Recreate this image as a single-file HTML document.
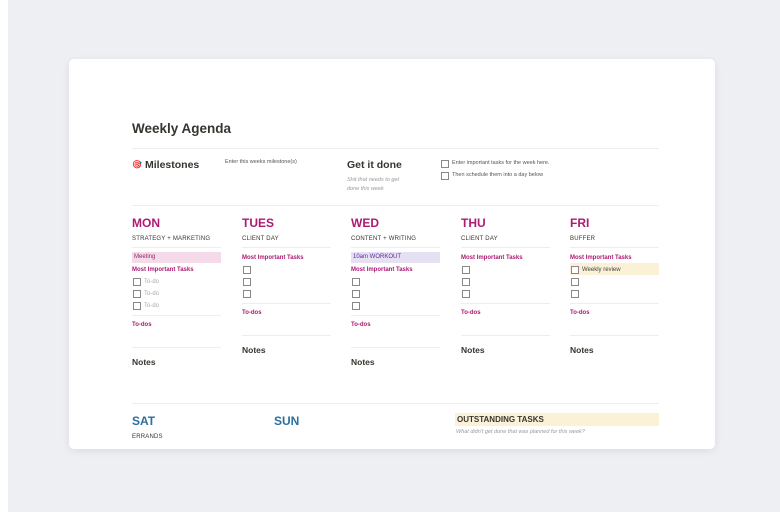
<!DOCTYPE html>
<html><head><meta charset="utf-8">
<style>
html,body{margin:0;padding:0}
body{width:780px;height:512px;position:relative;overflow:hidden;background:#fff;font-family:"Liberation Sans",sans-serif;}
#bg{position:absolute;left:8px;top:0;width:772px;height:512px;background:#eeeff3}
#card{position:absolute;left:69px;top:59px;width:646px;height:390px;background:#fff;border-radius:5px;box-shadow:0 2px 8px rgba(0,0,0,0.08)}
.a{position:absolute;white-space:nowrap;line-height:1}
.hr{position:absolute;height:1px;background:#eeeeee}
.day{font-weight:bold;font-size:12px;color:#ad1a72}
.blue{color:#2b6f9e}
.sub{font-size:6px;color:#37352f;letter-spacing:0.2px}
.mit{font-size:6px;color:#ad1a72;font-weight:bold}
.cb{position:absolute;width:6px;height:6px;border:1px solid #888;background:#fff}
.todo{font-size:6px;color:#aaa}
.notes{font-size:8.5px;font-weight:bold;color:#37352f}
</style></head>
<body>
<div id="bg"></div>
<div id="card"></div>
<div id="root"></div>
<script>
var root=document.getElementById('root');
function mk(cls,x,y,txt,css){
  var e=document.createElement('div');
  e.className=cls;
  e.style.left=x+'px';e.style.top=y+'px';
  if(txt)e.textContent=txt;
  if(css)e.style.cssText+=css;
  root.appendChild(e);
  return e;
}
var e;
e=mk('a',132,122,'Weekly Agenda','font-size:13.5px;font-weight:bold;color:#37352f');


e=mk('hr',132,148,'','width:527px');


e=mk('a',132,161,'\u{1F3AF}','font-size:8px;color:#d33');


e=mk('a',145,160,'Milestones','font-size:10.5px;font-weight:bold;color:#37352f');


e=mk('a',225,160,'Enter this weeks milestone(s)','font-size:5.5px;color:#555');


e=mk('a',347,160,'Get it done','font-size:10.5px;font-weight:bold;color:#37352f');


e=mk('a',347,178,'Shit that needs to get','font-size:5.5px;color:#999;font-style:italic');


e=mk('a',347,187,'done this week','font-size:5.5px;color:#999;font-style:italic');


e=mk('cb',441,160);


e=mk('a',452,161,'Enter important tasks for the week here.','font-size:5.5px;color:#555');


e=mk('cb',441,172);


e=mk('a',452,173,'Then schedule them into a day below','font-size:5.5px;color:#555');


e=mk('hr',132,205,'','width:527px');



var days=[
 {n:'MON',s:'STRATEGY + MARKETING',x:132,hl:'Meeting',hc:'#f5dbea',tc:'#8a2a62',todo:true},
 {n:'TUES',s:'CLIENT DAY',x:242},
 {n:'WED',s:'CONTENT + WRITING',x:351,hl:'10am WORKOUT',hc:'#e6e0f3',tc:'#5b2a9a'},
 {n:'THU',s:'CLIENT DAY',x:461},
 {n:'FRI',s:'BUFFER',x:570,weekly:true}
];
days.forEach(function(d){
  var k=d.n.toLowerCase();
  var x=d.x,off=d.hl?12:0;
  e=mk('a day',x,217,d.n);
  
  
  e=mk('a sub',x,236,d.s);
  
  
  e=mk('hr',x,247,'','width:89px');
  
  
  if(d.hl){
    e=mk('a',x,252,d.hl,'width:87px;height:11px;padding-left:2px;line-height:11px;font-size:6px;background:'+d.hc+';color:'+d.tc);
    
    
  }
  e=mk('a mit',x,255+off,'Most Important Tasks');
  
  
  for(var i=0;i<3;i++){
    var y=266+off+i*12;
    if(d.weekly&&i==0){
      e=mk('a',x,y-3,'','width:89px;height:12px;background:#faf1d6');
      
      
      e=mk('a',x+12,y+1,'Weekly review','font-size:6px;color:#444');
      
      
    }
    e=mk('cb',x+1,y);
    
    
    if(d.todo){
      e=mk('a todo',x+12,y+1,'To-do');
      
      
    }
  }
  e=mk('hr',x,303+off,'','width:89px');
  
  
  e=mk('a mit',x,310+off,'To-dos');
  
  
  e=mk('hr',x,335+off,'','width:89px');
  
  
  e=mk('a notes',x,346+off,'Notes');
  
  
});
e=mk('hr',132,403,'','width:527px');


e=mk('a day blue',132,415,'SAT');


e=mk('a sub',132,434,'ERRANDS');


e=mk('a day blue',274,415,'SUN');


e=mk('a',455,413,'OUTSTANDING TASKS','width:202px;height:13px;padding-left:2px;line-height:13px;font-size:8px;font-weight:bold;color:#37352f;background:#faf1d6');


e=mk('a',456,430,"What didn't get done that was planned for this week?",'font-size:5.5px;color:#999;font-style:italic');


</script>
</body></html>
